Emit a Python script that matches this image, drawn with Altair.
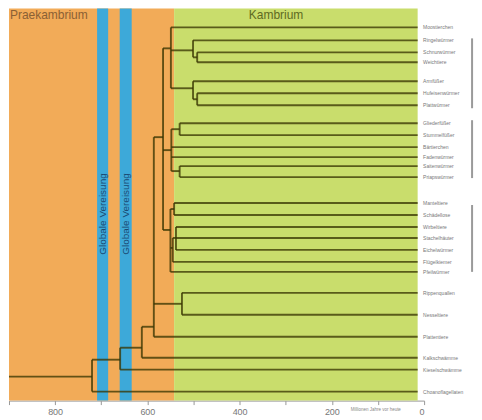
import altair as alt
import pandas as pd

# ---- data ----
leaf_names = ["Moostierchen", "Ringelwürmer", "Schnurwürmer", "Weichtiere",
              "Armfüßer", "Hufeisenwürmer", "Plattwürmer",
              "Gliederfüßer", "Stummelfüßer", "Bärtierchen", "Fadenwürmer",
              "Saitenwürmer", "Priapswürmer",
              "Manteltiere", "Schädellose", "Wirbeltiere", "Stachelhäuter",
              "Eichelwürmer", "Flügelkiemer", "Pfeilwürmer",
              "Rippenquallen", "Nesseltiere", "Plattentiere",
              "Kalkschwämme", "Kieselschwämme", "Choanoflagellaten"]
leaf_rows = [19, 32, 44, 54, 73, 85, 97, 115, 127, 139, 149, 158, 169,
             195, 207, 219, 230, 242, 254, 264, 285, 307, 329, 350, 362, 384]
leaf_end = 14  # Ma

node_names = ["A", "B", "C", "D", "T", "G1", "G2", "F", "H1", "H2", "H3", "H",
              "P1", "N21", "P2", "P4", "P5", "R"]
node_ages = [492, 501, 492, 501, 549, 530, 530, 548, 542, 538, 545, 550,
             566, 525, 586, 612, 659, 720]
node_rows = [49, 42, 91, 80, 40, 121, 163, 142, 201, 230, 240, 222,
             129, 296, 319, 340, 352, 369]
node_children = [["L3", "L4"], ["L2", "A"], ["L6", "L7"], ["L5", "C"],
                 ["L1", "B", "D"], ["L8", "L9"], ["L12", "L13"],
                 ["G1", "L10", "L11", "G2"], ["L14", "L15"],
                 ["L16", "L17", "L18"], ["H2", "L19"], ["H1", "H3", "L20"],
                 ["T", "F", "H"], ["L21", "L22"], ["P1", "N21", "L23"],
                 ["P2", "L24"], ["P4", "L25"], ["P5", "L26"]]
root_start = 900

era_names = ["Praekambrium", "Kambrium"]
era_start = [900, 542]
era_end = [542, leaf_end]
ice_start = [709, 660]
ice_end = [685, 634]
ice_label = "Globale Vereisung"
group_bars = [(30, 100), (112, 170), (197, 264)]
axis_ticks = [900, 800, 700, 600, 500, 400, 300, 200, 100, 0]

# ---- build tables ----
pos = {}
for i, r in enumerate(leaf_rows):
    pos["L%d" % (i + 1)] = (leaf_end, r)
for n, a, r in zip(node_names, node_ages, node_rows):
    pos[n] = (a, r)

segs = []
for n, a, ch in zip(node_names, node_ages, node_children):
    rows = [pos[c][1] for c in ch]
    segs.append(dict(x=a, x2=a, y=min(rows), y2=max(rows)))
    for c in ch:
        segs.append(dict(x=a, x2=pos[c][0], y=pos[c][1], y2=pos[c][1]))
segs.append(dict(x=root_start, x2=node_ages[-1], y=node_rows[-1], y2=node_rows[-1]))
seg_df = pd.DataFrame(segs)

H = 393
xs = alt.Scale(domain=[0, 900], reverse=True, nice=False, zero=False)
ys = alt.Scale(domain=[0, H], reverse=True, nice=False, zero=False)

era_df = pd.DataFrame(dict(name=era_names, s=era_start, e=era_end,
                           c=["#F2AB58", "#C9DD6C"]))
eras = alt.Chart(era_df).mark_rect(stroke=None).encode(
    x=alt.X("s:Q", scale=xs, axis=alt.Axis(
        values=axis_ticks, title="Millionen Jahre vor heute",
        labelExpr="datum.value % 200 == 0 ? datum.label : ''",
        labelFontSize=9, labelColor="#777", labelPadding=3,
        domainColor="#999", tickColor="#999", tickSize=4, grid=False,
        titleFontSize=4.5, titleFontWeight="normal", titleColor="#888",
        titleAlign="left", titleX=342, titleY=9, titleBaseline="middle")),
    x2="e:Q",
    y=alt.Y("y0:Q", scale=ys, axis=None), y2="y1:Q",
    color=alt.Color("c:N", scale=None),
).transform_calculate(y0="0", y1=str(H))

ice_df = pd.DataFrame(dict(s=ice_start, e=ice_end))
ice = alt.Chart(ice_df).mark_rect(color="#3DA9D9").encode(
    x="s:Q", x2="e:Q", y="y0:Q", y2="y1:Q"
).transform_calculate(y0="0", y1=str(H))

ice_txt_df = pd.DataFrame(dict(m=[(a + b) / 2 for a, b in zip(ice_start, ice_end)],
                               r=[206, 206], t=[ice_label, ice_label]))
ice_txt = alt.Chart(ice_txt_df).mark_text(angle=270, fontSize=10, color="#1B4A73",
                                          baseline="middle", align="center").encode(
    x="m:Q", y="r:Q", text="t:N")

tree = alt.Chart(seg_df).mark_rule(color="#3A3602", opacity=0.78, strokeWidth=1.9).encode(
    x="x:Q", x2="x2:Q", y="y:Q", y2="y2:Q")

lab_df = pd.DataFrame(dict(n=leaf_names, r=leaf_rows))
labels = alt.Chart(lab_df).mark_text(align="left", baseline="middle", fontSize=5,
                                     color="#777", dx=-1).encode(
    x=alt.datum(0), y="r:Q", text="n:N")

era_txt_df = pd.DataFrame(dict(t=era_names, x=[898, 321], r=[7, 7]))
era_txt1 = alt.Chart(era_txt_df.iloc[[0]]).mark_text(
    align="left", baseline="middle", fontSize=12, color="#8A6034").encode(
    x="x:Q", y="r:Q", text="t:N")
era_txt2 = alt.Chart(era_txt_df.iloc[[1]]).mark_text(
    align="center", baseline="middle", fontSize=12, color="#5E6A22").encode(
    x="x:Q", y="r:Q", text="t:N")

bar_df = pd.DataFrame(dict(a=[b[0] for b in group_bars], b=[b[1] for b in group_bars]))
bars = alt.Chart(bar_df).mark_rule(color="#9A9A9A", strokeWidth=2).encode(
    x=alt.datum(-104), y="a:Q", y2="b:Q")

chart = alt.layer(eras, ice, ice_txt, tree, labels, era_txt1, era_txt2, bars).properties(
    width=416, height=H, padding=0
).configure_view(stroke=None).configure_axis(labelFont="Liberation Sans", titleFont="Liberation Sans"
).configure_text(font="Liberation Sans")

chart.save("out.html", embed_options={"renderer": "svg", "actions": False})
